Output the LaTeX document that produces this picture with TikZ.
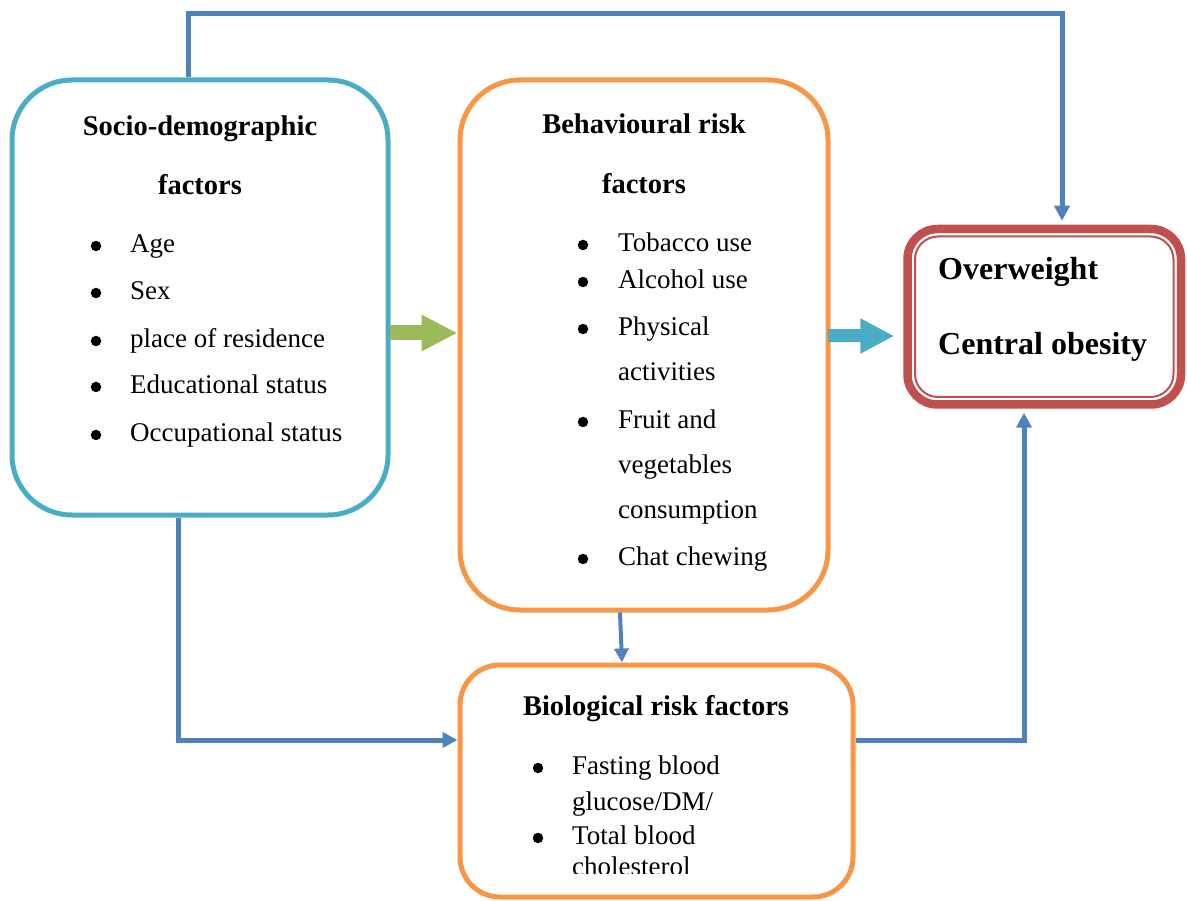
\documentclass[tikz,border=0pt]{standalone}
\usepackage{fontspec}
\setmainfont{Liberation Serif}
\usetikzlibrary{arrows.meta}
\definecolor{tealc}{HTML}{4BACC6}
\definecolor{orangec}{HTML}{F79646}
\definecolor{bluec}{HTML}{4F81BD}
\definecolor{greenc}{HTML}{9BBB59}
\definecolor{redc}{HTML}{C0504D}
\tikzset{
  box/.style={draw, line width=5pt, fill=none, inner sep=0pt},
  head/.style={font=\fontsize{28.5}{34}\selectfont\bfseries, text height=20pt, text depth=6pt, inner sep=0pt},
  outc/.style={font=\fontsize{32}{38}\selectfont\bfseries, text height=22pt, text depth=7pt, inner sep=0pt, anchor=west},
  item/.style={font=\fontsize{27}{32}\selectfont, text height=19pt, text depth=6pt, inner sep=0pt, anchor=west},
  bul/.style={circle, fill=black, minimum size=10.5pt, inner sep=0pt},
  link/.style={draw=bluec, line width=5pt, -{Triangle[length=15pt,width=15pt]}},
  fatgreen/.style={draw=greenc, line width=15pt, -{Triangle[length=36pt,width=34pt]}},
  fatteal/.style={draw=tealc, line width=13pt, -{Triangle[length=34pt,width=33pt]}}
}
\begin{document}
\begin{tikzpicture}[x=1pt,y=-1pt]
\useasboundingbox (0,0) rectangle (1187,901);
% boxes
\node[box, draw=tealc, minimum width=376pt, minimum height=435pt, rounded corners=60pt] (sd) at (200,297.5) {};
\node[box, draw=orangec, minimum width=368pt, minimum height=530pt, rounded corners=60pt] (br) at (644,345) {};
\node[box, draw=orangec, minimum width=393pt, minimum height=232pt, rounded corners=40pt] (bio) at (656.5,781) {};
\node[draw=redc, line width=8.5pt, minimum width=273.5pt, minimum height=175.5pt, rounded corners=30pt, inner sep=0pt] (out) at (1044.25,316.75) {};
\node[draw=redc, line width=2pt, minimum width=258.5pt, minimum height=160.5pt, rounded corners=23pt, inner sep=0pt] (outin) at (1044.25,316.75) {};

% socio-demographic text
\node[head] (sdh1) at (200,129) {Socio-demographic};
\node[head] (sdh2) at (200,188) {factors};
\foreach \t/\y [count=\i] in {Age/246, Sex/293, place of residence/341, Educational status/387, Occupational status/435} {
  \node[bul] (sdb\i) at (96,\y) {};
  \node[item] (sdi\i) at (130,\y) {\t};
}

% behavioural text
\node[head] (brh1) at (644,127) {Behavioural risk};
\node[head] (brh2) at (644,187) {factors};
\foreach \t/\y [count=\i] in {Tobacco use/245, Alcohol use/282, Physical/329, activities/374, Fruit and/422, vegetables/467, consumption/512, Chat chewing/559} {
  \node[item] (bri\i) at (618,\y) {\t};
}
\foreach \y [count=\i] in {245,282,329,422,559} {
  \node[bul] (brb\i) at (583,\y) {};
}

% biological text
\node[head] (bioh) at (656,708) {Biological risk factors};
\node[bul] (biob1) at (538,768) {};
\node[bul] (biob2) at (538,838) {};
\begin{scope}
\clip (0,0) rectangle (1187,873.5);
\node[item] (bioi1) at (572,768) {Fasting blood};
\node[item] (bioi2) at (572,804) {glucose/DM/};
\node[item] (bioi3) at (572,838) {Total blood};
\node[item] (bioi4) at (572,869) {cholesterol};
\end{scope}

% outcome text
\node[outc] (o1) at (938,272) {Overweight};
\node[outc] (o2) at (938,347) {Central obesity};

% connectors
\coordinate (t1) at (188,14);
\coordinate (t2) at (1062,14);
\draw[link] (sd.north -| t1) -- (t1) -- (t2) -- ([yshift=4pt]t2 |- out.north);
\coordinate (l1) at (178,740);
\draw[link] (sd.south -| l1) -- (l1) -- (l1 -| bio.west);
\coordinate (r1) at (1024,740);
\draw[link] (r1 -| bio.east) -- (r1) -- ([yshift=-4pt]r1 |- out.south);
\draw[draw=bluec, line width=4pt, -{Triangle[length=14pt,width=14pt]}] ([xshift=-24pt]br.south) -- ([xshift=-34.5pt]bio.north);
\coordinate (g1) at (390,333);
\draw[fatgreen] (g1) -- (g1 -| br.west);
\coordinate (c1) at (828,336);
\draw[fatteal] (c1) -- ([xshift=-9pt]c1 -| out.west);
\end{tikzpicture}
\end{document}
